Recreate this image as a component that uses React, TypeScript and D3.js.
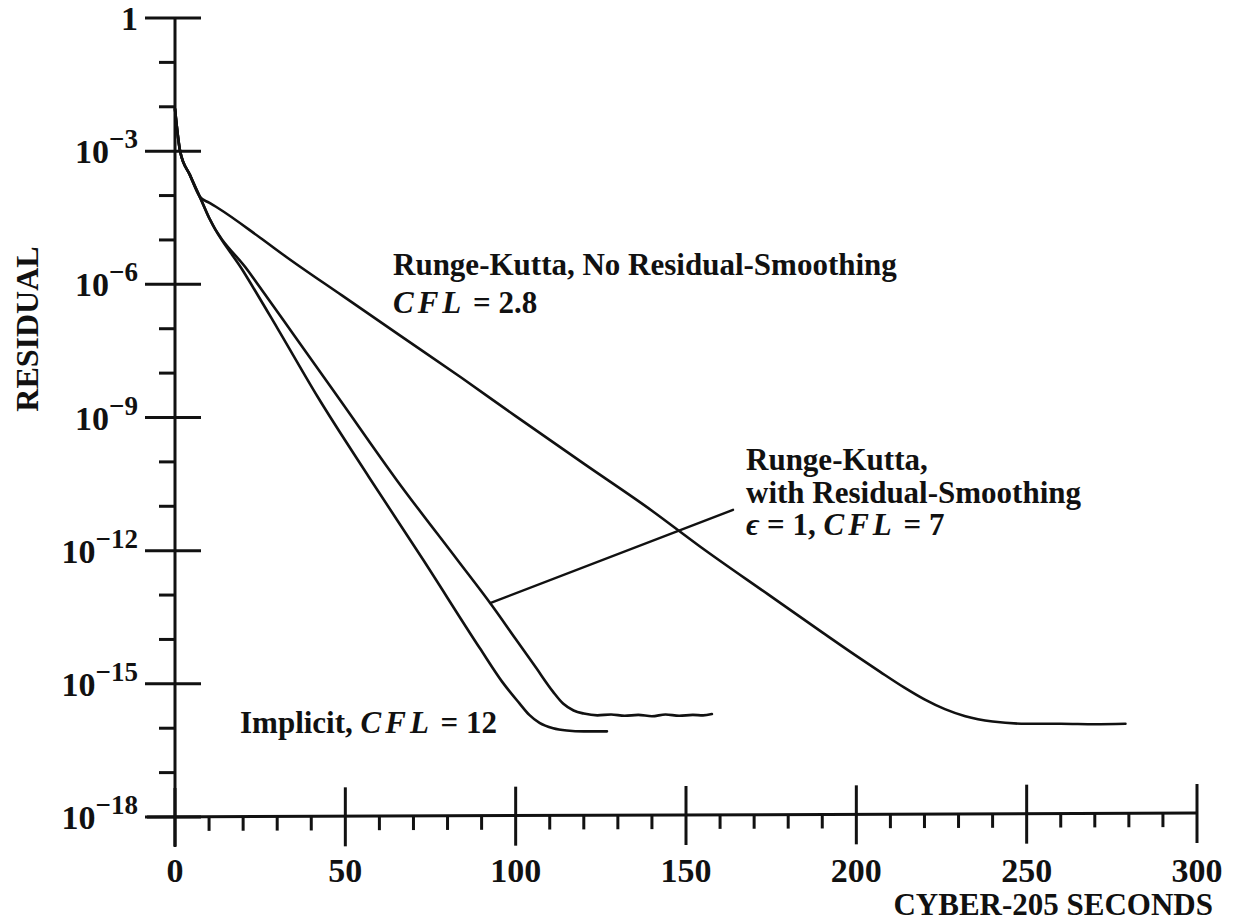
import React from "react";
import * as d3 from "d3";

// ---------- data (x = CYBER-205 seconds, value = log10(residual)) ----------
const rkNoSmoothX = [0, 1.5, 4.4, 7.3, 10, 12.6, 25, 33, 49, 66, 84, 100, 120, 140, 154, 174, 190, 200, 207, 214, 220, 226, 232, 240, 250, 260, 270, 279];
const rkNoSmoothLog = [-2.05, -3.0, -3.54, -4.03, -4.16, -4.28, -4.95, -5.4, -6.25, -7.15, -8.1, -8.97, -10.04, -11.1, -11.9, -12.98, -13.84, -14.37, -14.73, -15.08, -15.35, -15.57, -15.73, -15.85, -15.9, -15.9, -15.91, -15.9];

const rkSmoothX = [0, 1.5, 4.4, 7.3, 10, 21.5, 35, 48.4, 65, 82.8, 92.5, 100, 106, 111, 114, 117, 120, 124, 128, 132, 136, 140, 144, 148, 152, 155, 157.6];
const rkSmoothLog = [-2.05, -3.0, -3.54, -4.03, -4.5, -5.7, -7.15, -8.6, -10.4, -12.2, -13.18, -13.99, -14.64, -15.18, -15.45, -15.6, -15.67, -15.71, -15.69, -15.72, -15.7, -15.73, -15.69, -15.72, -15.7, -15.71, -15.68];

const implicitX = [0, 1.5, 4.4, 7.3, 10, 20, 30, 42, 57, 72.8, 89.5, 96, 101, 104, 107, 111, 115, 120, 126.8];
const implicitLog = [-2.05, -3.0, -3.54, -4.03, -4.5, -5.7, -6.98, -8.55, -10.35, -12.2, -14.2, -14.95, -15.43, -15.7, -15.88, -16.0, -16.05, -16.07, -16.07];

// leader line from the smoothing curve to its label
const leaderX = [92.5, 163.8];
const leaderLog = [-13.18, -11.08];

const xMajorTicks = [0, 50, 100, 150, 200, 250, 300];
const xMinorTicks = d3.range(0, 301, 10).filter((v) => v % 50 !== 0);
const yMajorExp = [0, -3, -6, -9, -12, -15, -18];
const yMinorExp = d3.range(0, -19, -1).filter((v) => v % 3 !== 0);

const xTitle = "CYBER-205 SECONDS";
const yTitle = "RESIDUAL";

// ---------- layout ----------
const W = 1233;
const H = 921;
const X0 = 175;
const X1 = 1197;
const YTOP = 18;
const YBOT = 817;

const x = d3.scaleLinear().domain([0, 300]).range([X0, X1]);
const y = d3.scaleLog().domain([1e-18, 1]).range([YBOT, YTOP]);

const SERIF = "'Liberation Serif', 'DejaVu Serif', serif";

function toPts(xs: number[], ls: number[]) {
  return xs.map((v, i) => [v, Math.pow(10, ls[i])] as [number, number]);
}

const line = d3
  .line<[number, number]>()
  .x((d) => x(d[0]))
  .y((d) => y(d[1]))
  .curve(d3.curveMonotoneX);

const straight = d3
  .line<[number, number]>()
  .x((d) => x(d[0]))
  .y((d) => y(d[1]));

export default function App() {
  const curveStyle = { fill: "none", stroke: "#111", strokeWidth: 2.6, strokeLinejoin: "round" as const, strokeLinecap: "round" as const };
  return (
    <svg width={W} height={H} style={{ position: "absolute", left: 0, top: 0, background: "#fff" }} fontFamily={SERIF}>
      <rect x={0} y={0} width={W} height={H} fill="#fff" />
      {/* axes */}
      <line x1={X0} y1={YTOP} x2={X0} y2={846} stroke="#111" strokeWidth={3} />
      <line x1={147} y1={YBOT} x2={X1} y2={YBOT - 4} stroke="#111" strokeWidth={3} />
      {/* y ticks */}
      {yMajorExp.map((e) => (
        <line key={"ym" + e} x1={145} x2={201} y1={y(Math.pow(10, e))} y2={y(Math.pow(10, e))} stroke="#111" strokeWidth={3} />
      ))}
      {yMinorExp.map((e) => (
        <line key={"yn" + e} x1={159} x2={X0} y1={y(Math.pow(10, e))} y2={y(Math.pow(10, e))} stroke="#111" strokeWidth={3} />
      ))}
      {/* x ticks */}
      {xMajorTicks.map((t) => {
        const yy = YBOT - (4 * t) / 300;
        return <line key={"xm" + t} x1={x(t)} x2={x(t)} y1={yy - 29} y2={yy + 30} stroke="#111" strokeWidth={3} />;
      })}
      {xMinorTicks.map((t) => {
        const yy = YBOT - (4 * t) / 300;
        return <line key={"xn" + t} x1={x(t)} x2={x(t)} y1={yy} y2={yy + 14} stroke="#111" strokeWidth={3} />;
      })}
      {/* y tick labels */}
      {yMajorExp.map((e) =>
        e === 0 ? (
          <text key={"yl" + e} x={138} y={y(1) + 12} textAnchor="end" fontSize={34} fontWeight="bold" fill="#111">
            1
          </text>
        ) : (
          <text key={"yl" + e} x={138} y={y(Math.pow(10, e)) + 12} textAnchor="end" fontSize={34} fontWeight="bold" fill="#111">
            10
            <tspan dy={-15} fontSize={27}>
              {"\u2212" + String(-e)}
            </tspan>
          </text>
        )
      )}
      {/* x tick labels */}
      {xMajorTicks.map((t) => (
        <text key={"xl" + t} x={x(t)} y={882} textAnchor="middle" fontSize={34} fontWeight="bold" fill="#111">
          {t}
        </text>
      ))}
      <text x={1213} y={915} textAnchor="end" fontSize={31} fontWeight="bold" fill="#111">
        {xTitle}
      </text>
      <text transform="translate(38,329) rotate(-90)" textAnchor="middle" fontSize={32} fontWeight="bold" fill="#111">
        {yTitle}
      </text>
      {/* curves */}
      <path d={line(toPts(rkNoSmoothX, rkNoSmoothLog)) || ""} style={curveStyle} />
      <path d={line(toPts(rkSmoothX, rkSmoothLog)) || ""} style={curveStyle} />
      <path d={line(toPts(implicitX, implicitLog)) || ""} style={curveStyle} />
      <path d={straight(toPts(leaderX, leaderLog)) || ""} style={{ ...curveStyle, strokeWidth: 2.4 }} />
      {/* annotations */}
      <text x={393} y={275} fontSize={31} fontWeight="bold" fill="#111">
        Runge-Kutta, No Residual-Smoothing
      </text>
      <text x={393} y={313} fontSize={31} fontWeight="bold" fill="#111">
        <tspan fontStyle="italic" letterSpacing={4}>CFL</tspan>
        <tspan> = 2.8</tspan>
      </text>
      <text x={746} y={470} fontSize={31} fontWeight="bold" fill="#111">
        Runge-Kutta,
      </text>
      <text x={746} y={503} fontSize={31} fontWeight="bold" fill="#111">
        with Residual-Smoothing
      </text>
      <text x={746} y={535} fontSize={31} fontWeight="bold" fill="#111">
        <tspan fontStyle="italic">{"\u03f5"}</tspan>
        <tspan> = 1, </tspan>
        <tspan fontStyle="italic" letterSpacing={4}>CFL</tspan>
        <tspan> = 7</tspan>
      </text>
      <text x={240} y={733} fontSize={31} fontWeight="bold" fill="#111">
        <tspan>Implicit, </tspan>
        <tspan fontStyle="italic" letterSpacing={4}>CFL</tspan>
        <tspan> = 12</tspan>
      </text>
    </svg>
  );
}
